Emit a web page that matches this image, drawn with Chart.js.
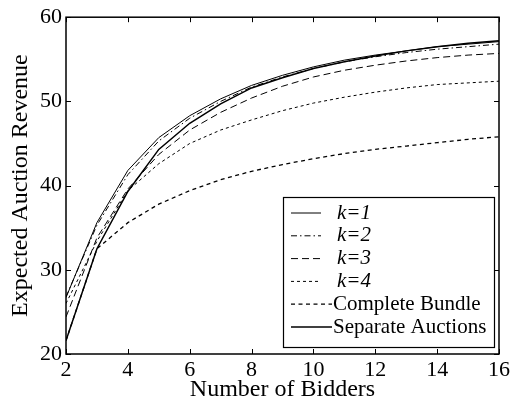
<!DOCTYPE html>
<html lang="en">
<head>
    <meta charset="UTF-8">
    <title>Expected Auction Revenue</title>
    <script src="https://cdn.jsdelivr.net/npm/chart.js"></script>
    <style>
        body { margin: 0; background: #fff; }
        #wrap { width: 513px; height: 403px; }
    </style>
</head>
<body>
    <div id="wrap"><canvas id="revChart" width="513" height="403"></canvas></div>

    <script>
        // data
        const bidders = [2, 3, 4, 5, 6, 7, 8, 9, 10, 11, 12, 13, 14, 15, 16];
        const k1 = [26.7, 35.6, 41.8, 45.7, 48.3, 50.3, 51.9, 53.1, 54.1, 54.9, 55.5, 56.0, 56.5, 56.8, 57.1];
        const k2 = [26.8, 35.3, 41.3, 45.3, 48.0, 50.0, 51.7, 52.9, 53.9, 54.7, 55.3, 55.8, 56.2, 56.5, 56.8];
        const k3 = [24.4, 33.8, 39.6, 43.7, 46.6, 48.7, 50.4, 51.8, 52.9, 53.7, 54.3, 54.8, 55.2, 55.5, 55.7];
        const k4 = [26.0, 33.4, 39.4, 42.6, 45.0, 46.6, 47.8, 48.9, 49.8, 50.5, 51.1, 51.6, 52.0, 52.2, 52.4];
        const bundle = [21.6, 32.5, 35.6, 37.8, 39.4, 40.7, 41.7, 42.5, 43.2, 43.8, 44.3, 44.7, 45.1, 45.5, 45.8];
        const separate = [21.6, 32.5, 39.3, 44.3, 47.4, 49.7, 51.6, 52.8, 53.9, 54.7, 55.4, 56.0, 56.5, 56.9, 57.2];
        const xTicks = [2, 4, 6, 8, 10, 12, 14, 16];
        const yTicks = [20, 30, 40, 50, 60];

        const serif = "'Liberation Serif', 'Times New Roman', serif";

        function pts(vals) {
            return vals.map((v, i) => ({ x: bidders[i], y: v }));
        }

        // box round the plot with inward ticks on all four sides
        const boxPlugin = {
            id: 'box',
            afterDatasetsDraw(chart) {
                const { ctx, chartArea: a, scales } = chart;
                ctx.save();
                ctx.strokeStyle = '#000';
                ctx.lineWidth = 1.5;
                ctx.strokeRect(a.left, a.top, a.right - a.left, a.bottom - a.top);
                ctx.lineWidth = 1;
                ctx.beginPath();
                xTicks.forEach(t => {
                    const px = Math.round(scales.x.getPixelForValue(t)) + 0.5;
                    ctx.moveTo(px, a.bottom); ctx.lineTo(px, a.bottom - 5);
                    ctx.moveTo(px, a.top); ctx.lineTo(px, a.top + 5);
                });
                yTicks.forEach(t => {
                    const py = Math.round(scales.y.getPixelForValue(t)) + 0.5;
                    ctx.moveTo(a.left, py); ctx.lineTo(a.left + 5, py);
                    ctx.moveTo(a.right, py); ctx.lineTo(a.right - 5, py);
                });
                ctx.stroke();
                ctx.restore();
            }
        };

        // matlab style legend box, lower right
        const legendPlugin = {
            id: 'boxLegend',
            afterDraw(chart) {
                const ctx = chart.ctx;
                const x0 = 283, y0 = 197, w = 211, h = 150;
                ctx.save();
                ctx.fillStyle = '#fff';
                ctx.fillRect(x0, y0, w, h);
                ctx.strokeStyle = '#000';
                ctx.lineWidth = 1.2;
                ctx.strokeRect(x0 + 0.5, y0 + 0.5, w, h);
                ctx.textBaseline = 'middle';
                ctx.fillStyle = '#000';
                chart.data.datasets.forEach((ds, i) => {
                    const y = y0 + 16 + i * 22.8;
                    const italic = ds.label.startsWith('k=');
                    const lineEnd = italic ? 321 : 332;
                    ctx.beginPath();
                    ctx.setLineDash(ds.borderDash || []);
                    ctx.lineWidth = ds.borderWidth;
                    ctx.strokeStyle = ds.borderColor;
                    ctx.moveTo(291, y); ctx.lineTo(lineEnd, y);
                    ctx.stroke();
                    ctx.setLineDash([]);
                    ctx.font = (italic ? 'italic ' : '') + '21px ' + serif;
                    ctx.fillText(ds.label, italic ? 337 : 333, y);
                });
                ctx.restore();
            }
        };

        const common = { borderColor: '#000', pointRadius: 0, fill: false, tension: 0 };

        function draw() {
            new Chart(document.getElementById('revChart'), {
                type: 'line',
                data: {
                    datasets: [
                        { ...common, label: 'k=1', data: pts(k1), borderWidth: 1 },
                        { ...common, label: 'k=2', data: pts(k2), borderWidth: 1, borderDash: [6, 3, 1.5, 3] },
                        { ...common, label: 'k=3', data: pts(k3), borderWidth: 1, borderDash: [7, 4] },
                        { ...common, label: 'k=4', data: pts(k4), borderWidth: 1, borderDash: [3, 3] },
                        { ...common, label: 'Complete Bundle', data: pts(bundle), borderWidth: 1.3, borderDash: [4, 3.5] },
                        { ...common, label: 'Separate Auctions', data: pts(separate), borderWidth: 1.5 }
                    ]
                },
                options: {
                    responsive: false,
                    animation: false,
                    layout: { padding: { top: 16, right: 14, left: 0, bottom: 0 } },
                    plugins: {
                        legend: { display: false },
                        tooltip: { enabled: false }
                    },
                    scales: {
                        x: {
                            type: 'linear',
                            min: 2,
                            max: 16,
                            afterFit: s => { s.height = 49; },
                            afterBuildTicks: s => { s.ticks = xTicks.map(v => ({ value: v })); },
                            grid: { display: false, drawTicks: false },
                            border: { display: false },
                            ticks: { color: '#000', padding: 3, maxRotation: 0, font: { family: serif, size: 22 } },
                            title: { display: true, text: 'Number of Bidders', color: '#000',
                                     padding: { top: 0, bottom: -1 }, font: { family: serif, size: 24 } }
                        },
                        y: {
                            type: 'linear',
                            min: 20,
                            max: 60,
                            afterFit: s => { s.width = 66; },
                            afterBuildTicks: s => { s.ticks = yTicks.map(v => ({ value: v })); },
                            grid: { display: false, drawTicks: false },
                            border: { display: false },
                            ticks: { color: '#000', padding: 4, font: { family: serif, size: 22 } },
                            title: { display: true, text: 'Expected Auction Revenue', color: '#000',
                                     padding: { top: 6, bottom: 0 }, font: { family: serif, size: 24 } }
                        }
                    }
                },
                plugins: [boxPlugin, legendPlugin]
            });
        }

        Promise.all([
            document.fonts.load("22px 'Liberation Serif'"),
            document.fonts.load("italic 21px 'Liberation Serif'")
        ]).then(draw, draw);
    </script>
</body>
</html>
